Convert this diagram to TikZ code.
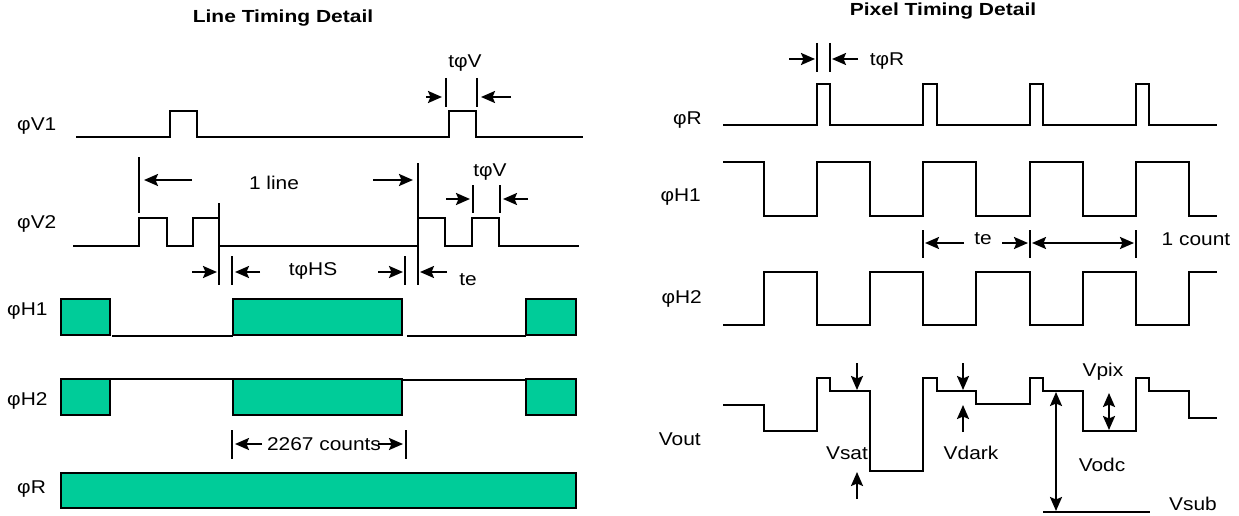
\documentclass[tikz,border=0pt]{standalone}
\usepackage{fontspec}
\setmainfont{Liberation Sans}
\usetikzlibrary{arrows.meta}
\definecolor{boxgreen}{RGB}{0,204,153}
\tikzset{
  sig/.style={line width=2.5pt, line join=miter},
  thin/.style={line width=2pt},
  mk/.style={line width=2.2pt},
  arr/.style={line width=2.2pt, -{Stealth[length=14pt,width=12pt,inset=2.5pt]}},
  darr/.style={line width=2.2pt, {Stealth[length=14pt,width=12pt,inset=2.5pt]}-{Stealth[length=14pt,width=12pt,inset=2.5pt]}},
  gbox/.style={fill=boxgreen, draw=black, line width=2.4pt},
  lbl/.style={font=\fontsize{18.5}{18.5}\selectfont, xscale=1.13, inner sep=0pt},
  ttl/.style={font=\bfseries\fontsize{17.5}{17.5}\selectfont, xscale=1.2, inner sep=0pt}
}
\begin{document}
\begin{tikzpicture}[x=1pt,y=-1pt]
\useasboundingbox (0,0) rectangle (1239,516);

% ---------------- Titles ----------------
\node[ttl] (t1) at (283,18) {Line Timing Detail};
\node[ttl] (t2) at (943,11) {Pixel Timing Detail};

% ---------------- Left panel labels ----------------
\node[lbl, anchor=west] (lv1) at (17,126) {φV1};
\node[lbl, anchor=west] (lv2) at (17,224) {φV2};
\node[lbl, anchor=west] (lh1) at (7,311) {φH1};
\node[lbl, anchor=west] (lh2) at (7,401) {φH2};
\node[lbl, anchor=west] (lr) at (17,489) {φR};

% phi V1
\draw[sig] (76,137) -- (170,137) -- (170,111) -- (197,111) -- (197,137) -- (449,137) -- (449,111) -- (476,111) -- (476,137) -- (583,137);
\node[lbl] (tv1) at (465,63) {tφV};
\draw[mk] (446,78) -- (446,107);
\draw[mk] (477,78) -- (477,107);
\draw[arr] (426,97) -- (442,97);
\draw[arr] (511,97) -- (481,97);

% phi V2
\draw[sig] (73,246) -- (139,246) -- (139,218) -- (167,218) -- (167,246) -- (193,246) -- (193,218) -- (219,218) -- (219,246) -- (418,246) -- (418,218) -- (445,218) -- (445,246) -- (472,246) -- (472,218) -- (499,218) -- (499,246) -- (579,246);
\draw[mk] (139,157) -- (139,213);
\draw[mk] (219,203) -- (219,285);
\draw[mk] (418,163) -- (418,285);
\draw[arr] (192,180) -- (144,180);
\draw[arr] (373,180) -- (413,180);
\node[lbl] (oneline) at (274,183) {1 line};
\node[lbl] (tv2) at (490,172) {tφV};
\draw[mk] (473,185) -- (473,213);
\draw[mk] (500,185) -- (500,213);
\draw[arr] (446,199) -- (470,199);
\draw[arr] (528,199) -- (503,199);

% t phi HS and te
\draw[mk] (232,256) -- (232,285);
\draw[mk] (405,256) -- (405,285);
\draw[arr] (192,272) -- (217,272);
\draw[arr] (260,272) -- (235,272);
\node[lbl] (ths) at (313,271) {tφHS};
\draw[arr] (378,272) -- (403,272);
\draw[arr] (447,272) -- (420,272);
\node[lbl] (te1) at (468,280) {te};

% phi H1
\draw[gbox] (61,299) rectangle (110,335);
\draw[gbox] (233,299) rectangle (402,335);
\draw[gbox] (526,299) rectangle (576,335);
\draw[thin] (112,336) -- (233,336);
\draw[thin] (407,336) -- (526,336);

% phi H2
\draw[gbox] (61,379) rectangle (110,415);
\draw[gbox] (233,379) rectangle (402,415);
\draw[gbox] (526,379) rectangle (576,415);
\draw[thin] (110,379) -- (233,379);
\draw[thin] (402,380) -- (526,380);

% 2267 counts
\draw[mk] (232,430) -- (232,459);
\draw[mk] (406,430) -- (406,459);
\draw[arr] (262,444) -- (235,444);
\draw[arr] (378,444) -- (403,444);
\node[lbl] (cnt) at (324,444) {2267 counts};

% phi R bar
\draw[gbox] (61,473) rectangle (576,508);

% ---------------- Right panel labels ----------------
\node[lbl, anchor=east] (rr) at (702,120) {φR};
\node[lbl, anchor=east] (rh1) at (701,197) {φH1};
\node[lbl, anchor=east] (rh2) at (702,299) {φH2};
\node[lbl, anchor=east] (rvo) at (701,439) {Vout};

% phi R
\draw[sig] (723,125) -- (817,125) -- (817,84) -- (830,84) -- (830,125) -- (923,125) -- (923,84) -- (937,84) -- (937,125) -- (1030,125) -- (1030,84) -- (1043,84) -- (1043,125) -- (1136,125) -- (1136,84) -- (1149,84) -- (1149,125) -- (1217,125);
\draw[mk] (817,43) -- (817,72);
\draw[mk] (830,43) -- (830,72);
\draw[arr] (789,59) -- (815,59);
\draw[arr] (858,59) -- (832,59);
\node[lbl] (tr) at (887,61) {tφR};

% phi H1
\draw[sig] (723,162) -- (764,162) -- (764,216) -- (817,216) -- (817,162) -- (870,162) -- (870,216) -- (923,216) -- (923,162) -- (976,162) -- (976,216) -- (1030,216) -- (1030,162) -- (1083,162) -- (1083,216) -- (1136,216) -- (1136,162) -- (1189,162) -- (1189,216) -- (1217,216);

% te / 1 count
\draw[mk] (923,230) -- (923,258);
\draw[mk] (1030,230) -- (1030,258);
\draw[mk] (1136,230) -- (1136,258);
\draw[arr] (964,243) -- (925,243);
\draw[arr] (1002,243) -- (1028,243);
\draw[darr] (1032,243) -- (1134,243);
\node[lbl] (te2) at (983,239) {te};
\node[lbl] (onecount) at (1196,239) {1 count};

% phi H2
\draw[sig] (723,325) -- (764,325) -- (764,272) -- (817,272) -- (817,325) -- (870,325) -- (870,272) -- (923,272) -- (923,325) -- (976,325) -- (976,272) -- (1030,272) -- (1030,325) -- (1083,325) -- (1083,272) -- (1136,272) -- (1136,325) -- (1189,325) -- (1189,272) -- (1217,272);

% Vout
\draw[sig] (723,405) -- (764,405) -- (764,431) -- (817,431) -- (817,378) -- (830,378) -- (830,391) -- (870,391) -- (870,471) -- (923,471) -- (923,378) -- (937,378) -- (937,391) -- (976,391) -- (976,404) -- (1030,404) -- (1030,378) -- (1043,378) -- (1043,391) -- (1083,391) -- (1083,431) -- (1136,431) -- (1136,378) -- (1149,378) -- (1149,391) -- (1189,391) -- (1189,418) -- (1217,418);

% Vsat
\draw[arr] (857,363) -- (857,390);
\draw[arr] (857,499) -- (857,472);
\node[lbl] (vsat) at (847,453) {Vsat};
% Vdark
\draw[arr] (963,363) -- (963,390);
\draw[arr] (963,432) -- (963,405);
\node[lbl] (vdark) at (971,453) {Vdark};
% Vpix
\draw[darr] (1109,393) -- (1109,430);
\node[lbl] (vpix) at (1103,372) {Vpix};
% Vodc
\draw[darr] (1056,392) -- (1056,511);
\node[lbl] (vodc) at (1102,465) {Vodc};
% Vsub
\draw[sig] (1043,512) -- (1150,512);
\node[lbl] (vsub) at (1193,504) {Vsub};
\end{tikzpicture}
\end{document}
